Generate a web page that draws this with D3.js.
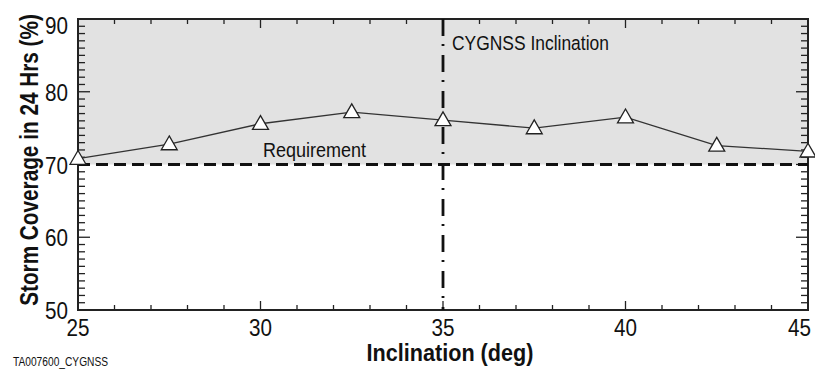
<!DOCTYPE html>
<html>
<head>
<meta charset="utf-8">
<script src="https://cdn.jsdelivr.net/npm/d3@7"></script>
<style>
  body { margin: 0; background: #ffffff; }
  svg { display: block; }
  text { font-family: "Liberation Sans", Arial, Helvetica, sans-serif; fill: #111; }
</style>
</head>
<body>
<div id="chart"></div>
<script>
// data
var inclination = [25, 27.5, 30, 32.5, 35, 37.5, 40, 42.5, 45];
var coverage = [70.8, 72.8, 75.6, 77.2, 76.1, 75.0, 76.5, 72.6, 71.8];
var x_ticks = [25, 30, 35, 40, 45];
var y_ticks = [50, 60, 70, 80, 90];
var requirement = 70;
var cygnss_incl = 35;

var width = 815;
var height = 369;
var margin = {left: 78, right: 7, top: 19, bottom: 59};

var x = d3.scaleLinear().domain([25, 45]).range([margin.left, width - margin.right]);
var y = d3.scaleLinear().domain([50, 90]).range([height - margin.bottom, margin.top]);

// squeeze text horizontally to look like a narrow face
function condense(sel, k) {
    sel.each(function() {
        var w = this.getComputedTextLength();
        d3.select(this)
            .attr('textLength', w * k)
            .attr('lengthAdjust', 'spacingAndGlyphs');
    });
    return sel;
}

var svg = d3.select('#chart')
  .append('svg')
    .attr('width', width)
    .attr('height', height);

// shaded region above requirement
svg.append('rect')
    .attr('x', x(25))
    .attr('y', y(90))
    .attr('width', x(45) - x(25))
    .attr('height', y(requirement) - y(90))
    .attr('fill', '#e2e2e2');

// minor / major ticks, drawn inward on all four sides
var x_minor = d3.range(25, 45.01, 1);
var y_minor = d3.range(50, 90.01, 1);
var ticks = svg.append('g').attr('stroke', '#222').attr('stroke-width', 1.3);
x_minor.forEach(function(d) {
    var len = (d % 5 === 0) ? 9 : 5;
    ticks.append('line').attr('x1', x(d)).attr('x2', x(d)).attr('y1', y(50)).attr('y2', y(50) - len);
    ticks.append('line').attr('x1', x(d)).attr('x2', x(d)).attr('y1', y(90)).attr('y2', y(90) + len);
});
y_minor.forEach(function(d) {
    var len = (d % 10 === 0) ? 12 : 7;
    ticks.append('line').attr('y1', y(d)).attr('y2', y(d)).attr('x1', x(25)).attr('x2', x(25) + len);
    ticks.append('line').attr('y1', y(d)).attr('y2', y(d)).attr('x1', x(45)).attr('x2', x(45) - len);
});

// frame
svg.append('rect')
    .attr('x', x(25))
    .attr('y', y(90))
    .attr('width', x(45) - x(25))
    .attr('height', y(50) - y(90))
    .attr('fill', 'none')
    .attr('stroke', '#222')
    .attr('stroke-width', 2);

// requirement line
svg.append('line')
    .attr('x1', x(25)).attr('x2', x(45))
    .attr('y1', y(requirement)).attr('y2', y(requirement))
    .attr('stroke', '#111')
    .attr('stroke-width', 2.8)
    .attr('stroke-dasharray', '12,6');

// CYGNSS inclination line
svg.append('line')
    .attr('x1', x(cygnss_incl)).attr('x2', x(cygnss_incl))
    .attr('y1', y(90)).attr('y2', y(50))
    .attr('stroke', '#111')
    .attr('stroke-width', 2.8)
    .attr('stroke-dasharray', '17,8,2,9');

// data line
var line = d3.line()
    .x(function(d, i) { return x(inclination[i]); })
    .y(function(d) { return y(d); });
svg.append('path')
    .datum(coverage)
    .attr('d', line)
    .attr('fill', 'none')
    .attr('stroke', '#333')
    .attr('stroke-width', 1.3);

// triangle markers
svg.append('g')
    .selectAll('path.marker')
    .data(coverage)
  .enter()
    .append('path')
    .attr('class', 'marker')
    .attr('d', d3.symbol().type(d3.symbolTriangle).size(110))
    .attr('transform', function(d, i) {
        return 'translate(' + x(inclination[i]) + ',' + (y(d) + 1) + ')';
    })
    .attr('fill', '#fff')
    .attr('stroke', '#222')
    .attr('stroke-width', 1.3);

// tick labels
var xt = svg.append('g')
    .selectAll('text.x-tick')
    .data(x_ticks)
  .enter()
    .append('text')
    .attr('class', 'x-tick')
    .attr('font-size', '24px')
    .style('text-anchor', function(d) { return d === 45 ? 'end' : 'middle'; })
    .attr('x', function(d) { return d === 45 ? width - 4 : x(d); })
    .attr('y', y(50) + 26)
    .text(function(d) { return d; });
condense(xt, 0.86);

var yt = svg.append('g')
    .selectAll('text.y-tick')
    .data(y_ticks)
  .enter()
    .append('text')
    .attr('class', 'y-tick')
    .attr('font-size', '24px')
    .style('text-anchor', 'end')
    .attr('x', x(25) - 10)
    .attr('y', function(d) { return y(d) + (d === 90 ? 15 : 9); })
    .text(function(d) { return d; });
condense(yt, 0.86);

// annotations
condense(svg.append('text')
    .attr('x', x(cygnss_incl) + 9)
    .attr('y', 50)
    .attr('font-size', '20.5px')
    .text('CYGNSS Inclination'), 0.85);

condense(svg.append('text')
    .attr('x', 263)
    .attr('y', y(requirement) - 8)
    .attr('font-size', '20px')
    .text('Requirement'), 0.9);

// axis titles
condense(svg.append('text')
    .attr('font-size', '24px')
    .attr('font-weight', 'bold')
    .style('text-anchor', 'middle')
    .attr('x', 450)
    .attr('y', height - 8)
    .text('Inclination (deg)'), 0.9);

// y title: squeezed along its own direction with a scale
svg.append('text')
    .attr('font-size', '25px')
    .attr('font-weight', 'bold')
    .style('text-anchor', 'middle')
    .attr('transform', 'translate(' + 38 + ',' + 160 + ') scale(1,0.83) rotate(-90)')
    .text('Storm Coverage in 24 Hrs (%)');

condense(svg.append('text')
    .attr('font-size', '12px')
    .attr('x', 13)
    .attr('y', height - 3)
    .text('TA007600_CYGNSS'), 0.85);
</script>
</body>
</html>
